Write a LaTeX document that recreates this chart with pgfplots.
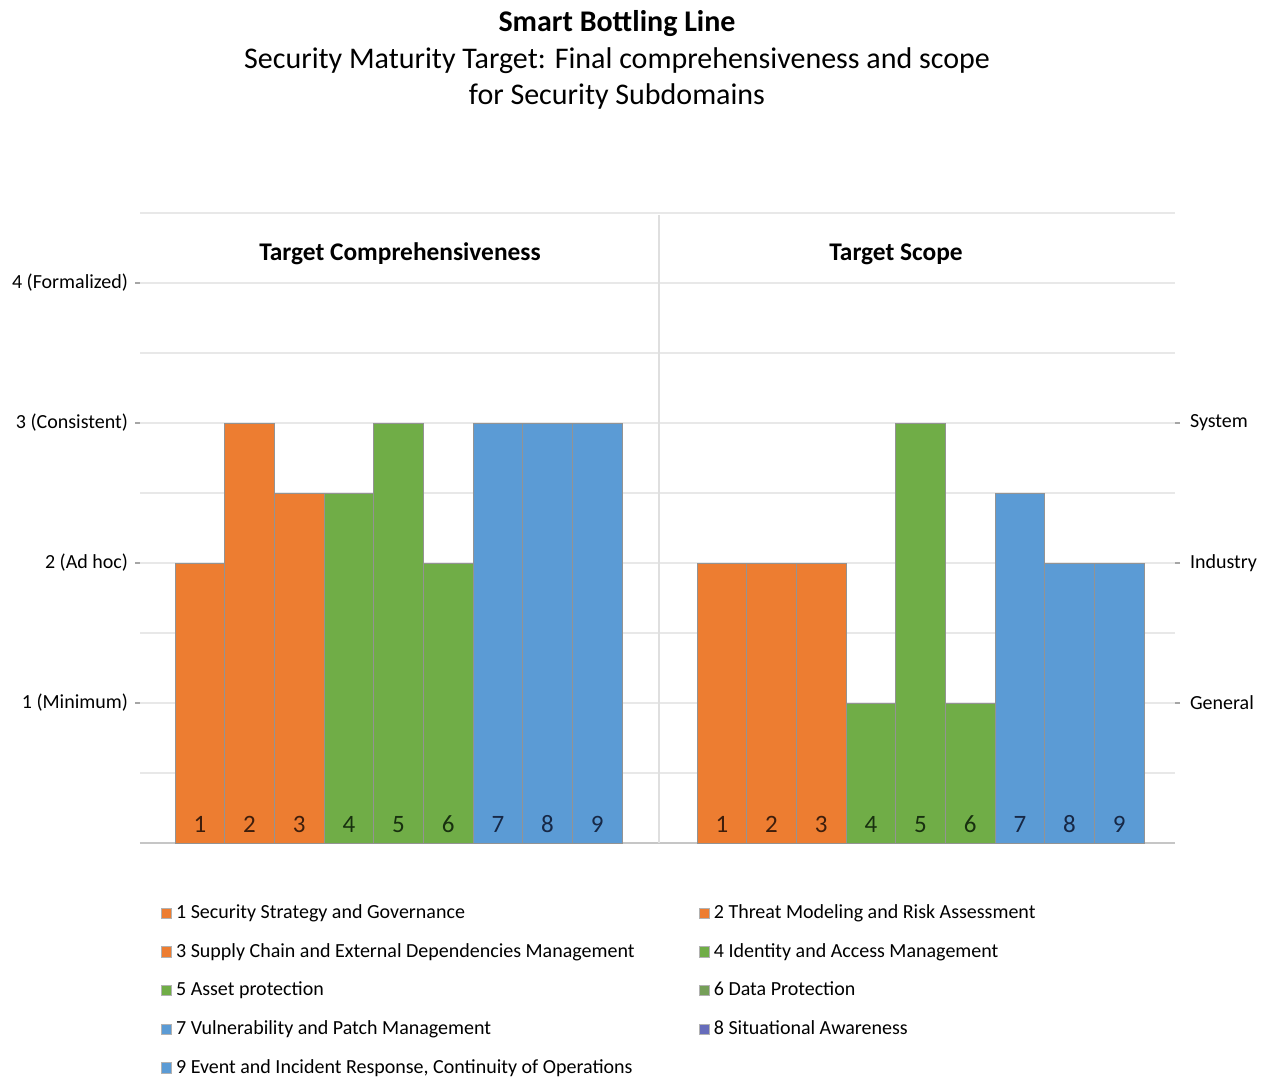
\documentclass[border=0pt]{standalone}
\usepackage{pgfplots}
\pgfplotsset{compat=1.18}
\usepackage{fontspec}
\setmainfont{Carlito}

\definecolor{xlorange}{HTML}{ED7D31}
\definecolor{xlgreen}{HTML}{70AD47}
\definecolor{xlblue}{HTML}{5B9BD5}
\definecolor{dkor}{HTML}{3E1E0C}
\definecolor{dkgr}{HTML}{18300F}
\definecolor{dkbl}{HTML}{172846}

\pgfplotsset{
  panel/.style={
    scale only axis,
    height=315pt,
    ymin=0, ymax=4.5,
    ybar, bar width=1,
    axis x line*=bottom,
    x axis line style={gray!45, line width=0.6pt},
    y axis line style={draw=none},
    xtick=\empty,
    ymajorgrids, yminorgrids,
    major grid style={gray!18, line width=0.6pt},
    minor grid style={gray!18, line width=0.6pt},
    tick align=outside,
    major tick length=2.5pt, minor tick length=0pt,
    ytick style={gray!70, line width=0.8pt},
    yticklabel style={font=\fontsize{10}{11}\selectfont},
    every axis plot/.append style={draw=gray!85, line width=0.5pt, bar shift=0pt},
  },
  % bar numbers sitting on the baseline
  numlab/.style={draw=none, fill=none, forget plot,
    nodes near coords, point meta=explicit symbolic,
    every node near coord/.append style={text=#1, anchor=south, yshift=1.5pt,
      font=\fontsize{12.5}{12.5}\selectfont}},
}

\begin{document}
\begin{tikzpicture}
\path[use as bounding box] (0,0) rectangle (635pt,-540pt);

\node[font=\fontsize{15}{15}\selectfont\bfseries] at (308.5pt,-12pt) {Smart Bottling Line};
\node[font=\fontsize{15}{15}\selectfont] at (308.5pt,-30.5pt) {Security Maturity Target: Final comprehensiveness and scope};
\node[font=\fontsize{15}{15}\selectfont] at (308.5pt,-48.5pt) {for Security Subdomains};

% left panel: comprehensiveness
\begin{axis}[panel,
    at={(70pt,-421.5pt)}, anchor=south west,
    width=259.5pt,
    xmin=-0.205, xmax=10.245,
    axis y line*=left,
    ytick={1,2,3,4},
    yticklabels={1 (Minimum),2 (Ad hoc),3 (Consistent),4 (Formalized)},
    minor ytick={0.5,1.5,2.5,3.5,4.5},
    legend columns=2,
    legend cell align=left,
    legend image code/.code={\draw[#1, draw=gray!60, line width=0.4pt] (0pt,-2.6pt) rectangle (5.2pt,2.6pt);},
    legend style={at={(axis description cs:0.0395,-0.091)}, anchor=north west,
      draw=none, fill=none, inner sep=0pt,
      font=\fontsize{10}{11}\selectfont, row sep=6.9pt,
      /tikz/every even column/.append style={column sep=30pt}},
  ]
  \addplot[fill=xlorange, forget plot] coordinates {(1,2) (2,3) (3,2.5)};
  \addplot[fill=xlgreen, forget plot] coordinates {(4,2.5) (5,3) (6,2)};
  \addplot[fill=xlblue, forget plot] coordinates {(7,3) (8,3) (9,3)};
  \addplot[numlab=dkor] coordinates {(1,0)[1] (2,0)[2] (3,0)[3]};
  \addplot[numlab=dkgr] coordinates {(4,0)[4] (5,0)[5] (6,0)[6]};
  \addplot[numlab=dkbl] coordinates {(7,0)[7] (8,0)[8] (9,0)[9]};
  \addlegendimage{fill=xlorange}
  \addlegendentry{1 Security Strategy and Governance}
  \addlegendimage{fill=xlorange}
  \addlegendentry{2 Threat Modeling and Risk Assessment}
  \addlegendimage{fill=xlorange}
  \addlegendentry{3 Supply Chain and External Dependencies Management}
  \addlegendimage{fill=xlgreen}
  \addlegendentry{4 Identity and Access Management}
  \addlegendimage{fill=xlgreen}
  \addlegendentry{5 Asset protection}
  \addlegendimage{fill=xlgreen!70!gray}
  \addlegendentry{6 Data Protection}
  \addlegendimage{fill=xlblue}
  \addlegendentry{7 Vulnerability and Patch Management}
  \addlegendimage{fill=xlblue!70!violet}
  \addlegendentry{8 Situational Awareness}
  \addlegendimage{fill=xlblue}
  \addlegendentry{9 Event and Incident Response, Continuity of Operations}
\end{axis}

% right panel: scope
\begin{axis}[panel,
    at={(329.5pt,-421.5pt)}, anchor=south west,
    width=258pt,
    xmin=-0.265, xmax=10.124,
    axis y line*=right,
    ytick={1,2,3},
    yticklabels={General,Industry,System},
    yticklabel style={xshift=1.5pt},
    minor ytick={0.5,1.5,2.5,3.5,4,4.5},
  ]
  \addplot[fill=xlorange] coordinates {(1,2) (2,2) (3,2)};
  \addplot[fill=xlgreen] coordinates {(4,1) (5,3) (6,1)};
  \addplot[fill=xlblue] coordinates {(7,2.5) (8,2) (9,2)};
  \addplot[numlab=dkor] coordinates {(1,0)[1] (2,0)[2] (3,0)[3]};
  \addplot[numlab=dkgr] coordinates {(4,0)[4] (5,0)[5] (6,0)[6]};
  \addplot[numlab=dkbl] coordinates {(7,0)[7] (8,0)[8] (9,0)[9]};
\end{axis}

\draw[gray!25, line width=0.6pt] (329.5pt,-107.5pt) -- (329.5pt,-421.5pt);
\node[font=\fontsize{12.7}{13}\selectfont\bfseries] at (200pt,-127pt) {Target Comprehensiveness};
\node[font=\fontsize{12.7}{13}\selectfont\bfseries] at (448pt,-127pt) {Target Scope};
\end{tikzpicture}
\end{document}
